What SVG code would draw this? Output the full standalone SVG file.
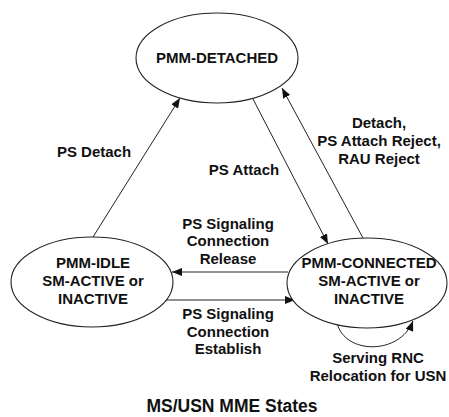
<svg xmlns="http://www.w3.org/2000/svg" width="449" height="417" viewBox="0 0 449 417">
  <style>
    .state { fill: #ffffff; stroke: #222222; stroke-width: 1.1; }
    .label { font-family: "Liberation Sans", Arial, Helvetica, sans-serif; font-weight: bold; font-size: 15px; fill: #111111; text-anchor: middle; }
    .title { font-size: 17.5px; }
    .edge { fill: none; stroke: #222222; stroke-width: 1; marker-end: url(#arrow); }
  </style>
  <defs>
    <marker id="arrow" viewBox="0 0 10 8" refX="10" refY="4" markerWidth="10" markerHeight="8" markerUnits="userSpaceOnUse" orient="auto">
      <path d="M0,0 L10,4 L0,8 Z" fill="#111111"/>
    </marker>
  </defs>
  <rect width="449" height="417" fill="#ffffff"/>

  <!-- transitions -->
  <g id="connectors">
    <line class="edge" x1="93" y1="237" x2="180" y2="98"/>
    <line class="edge" x1="253" y1="99" x2="328" y2="244"/>
    <line class="edge" x1="363" y1="238" x2="282" y2="88"/>
    <line class="edge" x1="288" y1="272" x2="172" y2="272"/>
    <line class="edge" x1="166" y1="300" x2="295" y2="300"/>
    <path class="edge" d="M337,323 C345,355 400,355 413,321"/>
  </g>

  <g id="pmm-detached">
    <ellipse class="state" cx="217" cy="58" rx="81" ry="45"/>
    <text class="label" x="217" y="63">PMM-DETACHED</text>
  </g>

  <g id="pmm-idle">
    <ellipse class="state" cx="92" cy="282" rx="81" ry="45"/>
    <text class="label" x="93" y="268">PMM-IDLE</text>
    <text class="label" x="93" y="286">SM-ACTIVE or</text>
    <text class="label" x="93" y="304">INACTIVE</text>
  </g>

  <g id="pmm-connected">
    <ellipse class="state" cx="367" cy="283" rx="80" ry="45"/>
    <text class="label" x="369" y="268">PMM-CONNECTED</text>
    <text class="label" x="369" y="286">SM-ACTIVE or</text>
    <text class="label" x="369" y="304">INACTIVE</text>
  </g>

  <!-- transition labels -->
  <g id="edge-labels">
    <text class="label" x="94" y="157">PS Detach</text>
    <text class="label" x="244" y="175">PS Attach</text>
    <text class="label" x="379" y="128">Detach,</text>
    <text class="label" x="379" y="146">PS Attach Reject,</text>
    <text class="label" x="379" y="164">RAU Reject</text>
    <text class="label" x="228" y="229">PS Signaling</text>
    <text class="label" x="228" y="246">Connection</text>
    <text class="label" x="228" y="264">Release</text>
    <text class="label" x="228" y="319">PS Signaling</text>
    <text class="label" x="228" y="337">Connection</text>
    <text class="label" x="228" y="354">Establish</text>
    <text class="label" x="378" y="363">Serving RNC</text>
    <text class="label" x="378" y="381">Relocation for USN</text>
  </g>

  <text class="label title" x="232" y="412">MS/USN MME States</text>
</svg>
